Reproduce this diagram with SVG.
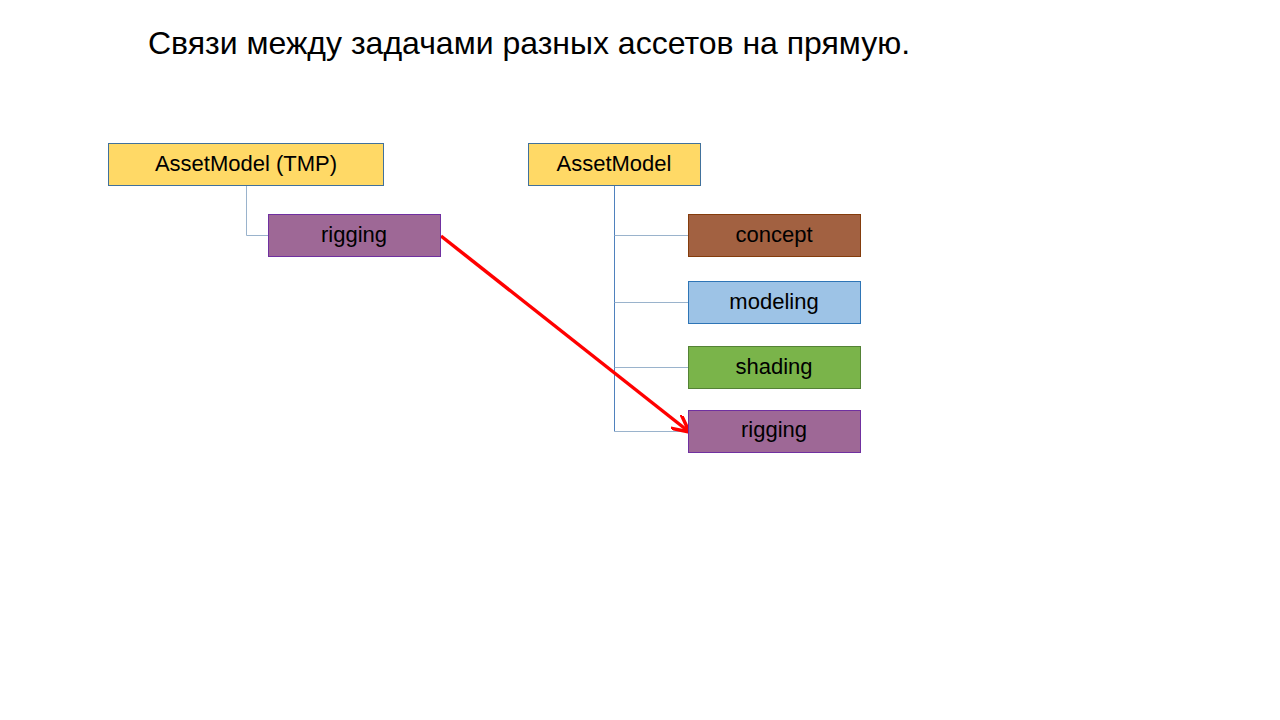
<svg xmlns="http://www.w3.org/2000/svg" width="1280" height="720" viewBox="0 0 1280 720">
<style>
text{font-family:"Liberation Sans",Arial,sans-serif;fill:#000}
.l{font-size:22px;text-anchor:middle}
.c{fill:none;stroke:#9ab3cc;stroke-width:1}
</style>
<defs>
<marker id="a" viewBox="0 0 10 10" refX="9" refY="5" markerWidth="5" markerHeight="5" orient="auto" markerUnits="strokeWidth"><path d="M0,0 L10,5 L0,10" fill="none" stroke="#f00" stroke-width="2"/></marker>
</defs>
<rect width="1280" height="720" fill="#fff"/>
<text x="148" y="54" font-size="32">Связи между задачами разных ассетов на прямую.</text>
<g id="connectors">
<path class="c" d="M246.5,186 V235.5 H268"/>
<path d="M614.5,186 V431.5" stroke="#4f81bd" fill="none"/>
<path class="c" d="M614.5,235.5 H688 M614.5,302.5 H688 M614.5,367.5 H688 M614.5,431.5 H688"/>
<path d="M441,236 L688,431" stroke="#f00" stroke-width="3.5" fill="none" marker-end="url(#a)"/>
</g>
<g id="n1"><rect x="108.5" y="143.5" width="275" height="42" fill="#ffd966" stroke="#41719c"/><text class="l" x="246" y="171">AssetModel (TMP)</text></g>
<g id="n2"><rect x="268.5" y="214.5" width="172" height="42" fill="#9e6896" stroke="#7030a0"/><text class="l" x="354" y="242">rigging</text></g>
<g id="n3"><rect x="528.5" y="143.5" width="172" height="42" fill="#ffd966" stroke="#41719c"/><text class="l" x="614" y="171">AssetModel</text></g>
<g id="n4"><rect x="688.5" y="214.5" width="172" height="42" fill="#a26141" stroke="#843c0c"/><text class="l" x="774" y="242">concept</text></g>
<g id="n5"><rect x="688.5" y="281.5" width="172" height="42" fill="#9dc3e6" stroke="#2e75b6"/><text class="l" x="774" y="309">modeling</text></g>
<g id="n6"><rect x="688.5" y="346.5" width="172" height="42" fill="#7ab44a" stroke="#548235"/><text class="l" x="774" y="374">shading</text></g>
<g id="n7"><rect x="688.5" y="410.5" width="172" height="42" fill="#9e6896" stroke="#7030a0"/><text class="l" x="774" y="437">rigging</text></g>
</svg>
